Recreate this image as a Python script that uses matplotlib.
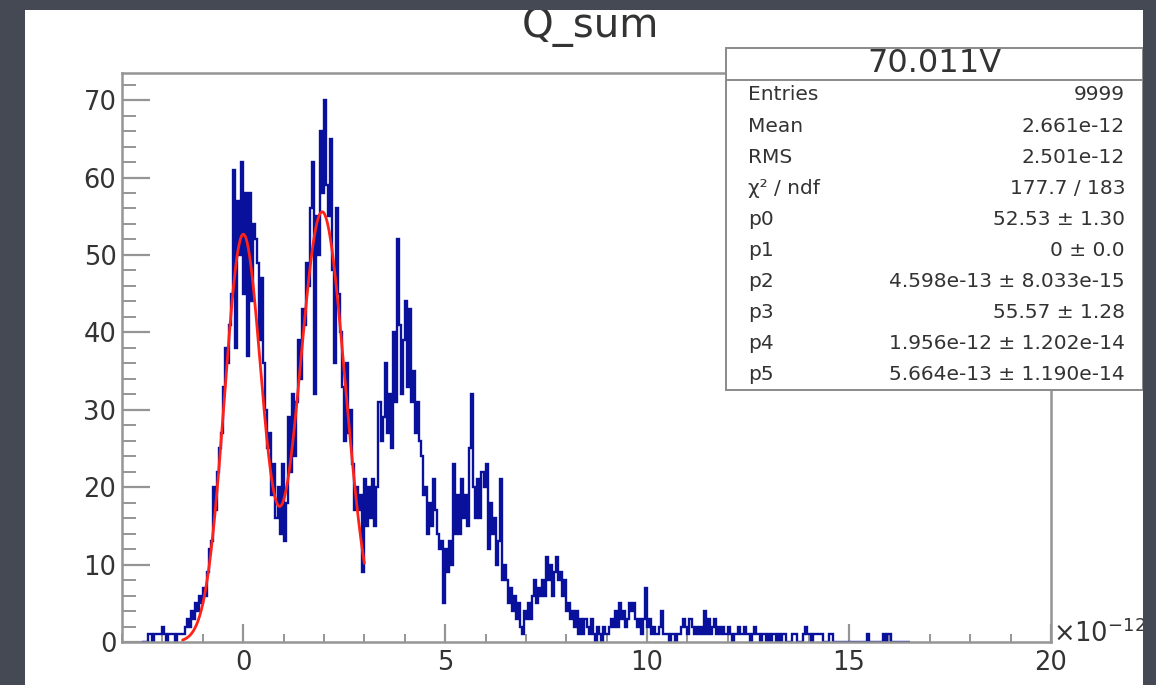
import numpy as np
import matplotlib
matplotlib.use("Agg")
import matplotlib.pyplot as plt
from matplotlib.patches import Rectangle
from matplotlib.lines import Line2D
from matplotlib.ticker import MultipleLocator

plt.rcParams['font.family'] = ['DejaVu Sans']

# ---- histogram contents: charge in units of 1e-12, bins of 0.05 starting at -2.5 ----
BIN_WIDTH = 0.05
FIRST_EDGE = -2.5

tail_left = [0, 0, 0, 1, 1, 0, 1, 1, 1, 1, 2, 1, 0, 1, 1, 1, 0, 1, 1, 1]          # -2.5 .. -1.5
rise = [1, 2, 3, 2, 4, 3, 5, 4, 6, 5, 7, 6, 9, 12, 13, 20, 17, 22, 25, 27]         # -1.5 .. -0.5
peak0 = [33, 38, 36, 41, 45, 61, 38, 57, 50, 62, 45, 58, 37, 58, 44, 54, 52, 49, 39, 47]   # -0.5 .. 0.5
valley01 = [36, 30, 25, 27, 19, 23, 16, 20, 14, 23, 13, 18, 29, 22, 32, 24, 31, 39, 34, 43]  # 0.5 .. 1.5
peak1 = [41, 49, 46, 56, 62, 32, 55, 50, 66, 58, 70, 59, 55, 65, 48, 36, 56, 45, 40, 33]     # 1.5 .. 2.5
fall1 = [26, 36, 27, 30, 23, 17, 20, 17, 19, 9, 21, 15, 20, 16, 21, 15, 20, 31, 26, 29]      # 2.5 .. 3.5
peak2 = [36, 27, 32, 25, 40, 31, 52, 41, 32, 39, 44, 33, 43, 31, 35, 27, 31, 26, 24, 19]     # 3.5 .. 4.5
peak3 = [20, 14, 18, 15, 21, 17, 14, 12, 13, 5, 12, 9, 13, 10, 23, 14, 19, 14, 21, 16,
         19, 15, 25, 32, 20, 16, 21, 16, 22, 20, 23, 12, 18, 14, 16, 10, 13, 21, 8, 10]      # 4.5 .. 6.5
peak4 = [8, 5, 7, 4, 6, 3, 5, 2, 1, 4, 3, 5, 3, 6, 8, 5, 7, 6, 8, 6,
         11, 8, 10, 6, 9, 11, 8, 9, 6, 8, 4, 5, 3, 4, 2, 4, 1, 3, 1, 3]                      # 6.5 .. 8.5
tail_mid = [2, 1, 3, 1, 0, 2, 1, 0, 2, 1, 1, 2, 3, 2, 4, 2, 5, 3, 4, 2,
            3, 5, 4, 5, 3, 2, 3, 1, 3, 7, 2, 3, 1, 2, 1, 1, 2, 4, 1, 1,
            1, 0, 1, 1, 0, 1, 1, 2, 3, 2, 1, 3, 2, 1, 2, 1, 2, 1, 4, 1]                      # 8.5 .. 11.5
tail_right = [3, 1, 2, 3, 1, 2, 1, 2, 1, 1, 2, 1, 0, 1, 1, 2, 1, 1, 2, 1,
              1, 0, 1, 2, 1, 1, 0, 1, 1, 0, 1, 0, 1, 1, 0, 1, 0, 1, 1, 0,
              0, 0, 1, 1, 0, 0, 0, 1, 2, 1, 1, 0, 1, 1, 1, 1, 1, 0, 0, 0,
              1, 1, 0, 0, 0, 0, 0, 0, 0, 0, 0, 0, 0, 0, 0, 0, 0, 0, 0, 1,
              0, 0, 0, 0, 0, 0, 0, 1, 0, 1, 1, 0, 0, 0, 0, 0, 0, 0, 0, 0]                    # 11.5 .. 16.5

# ---- statistics and fit results (double gaussian, fit range in units of 1e-12) ----
hist_title = "Q_sum"
stats_title = "70.011V"
n_entries = 9999
mean_q = 2.661e-12
rms_q = 2.501e-12
chi2, ndf = 177.7, 183
fit_params = [52.53, 0.0, 4.598e-13, 55.57, 1.956e-12, 5.664e-13]
fit_errors = [1.30, 0.0, 8.033e-15, 1.28, 1.202e-14, 1.190e-14]
fit_range = (-1.5, 3.0)
x_ticks = [0, 5, 10, 15, 20]
y_ticks = [0, 10, 20, 30, 40, 50, 60, 70]

counts = np.concatenate([tail_left, rise, peak0, valley01, peak1, fall1,
                         peak2, peak3, peak4, tail_mid, tail_right]).astype(float)
edges = FIRST_EDGE + BIN_WIDTH * np.arange(len(counts) + 1)

W, H = 1156, 685
fig = plt.figure(figsize=(W / 100, H / 100), dpi=100)
fig.patch.set_facecolor('white')


def fx(px):
    return px / W


def fy(py):
    return 1 - py / H


FRAME = '#959595'
TEXT = '#333333'

ax = fig.add_axes([fx(122), fy(642), (1051 - 122) / W, (642 - 73) / H])
ax.set_facecolor('white')
ax.set_xlim(-3, 20)
ax.set_ylim(0, 73.5)

ax.stairs(counts, edges, baseline=0, color='#08109c', lw=1.7, zorder=2)

# fitted function drawn from the quoted parameters
scale = 1e12
xf = np.linspace(fit_range[0], fit_range[1], 500)
p0, p1, p2, p3, p4, p5 = fit_params
yf = (p0 * np.exp(-0.5 * ((xf - p1 * scale) / (p2 * scale)) ** 2)
      + p3 * np.exp(-0.5 * ((xf - p4 * scale) / (p5 * scale)) ** 2))
ax.plot(xf, yf, color='#ff2218', lw=2.0, zorder=3, solid_capstyle='round')

for s in ax.spines.values():
    s.set_color(FRAME)
    s.set_linewidth(1.8)
    s.set_zorder(2.5)

ax.set_xticks(x_ticks)
ax.set_yticks(y_ticks)
ax.xaxis.set_minor_locator(MultipleLocator(1))
ax.yaxis.set_minor_locator(MultipleLocator(2))
ax.tick_params(which='both', direction='in', color=FRAME, top=False, right=False,
               labelcolor=TEXT, labelsize=18.5)
ax.tick_params(axis='y', which='major', length=20, width=1.6, pad=4)
ax.tick_params(axis='y', which='minor', length=10, width=1.4)
ax.tick_params(axis='x', which='major', length=13, width=1.6, pad=6)
ax.tick_params(axis='x', which='minor', length=6, width=1.4)

# axis exponent
fig.text(fx(1053), fy(634), r'$\times10^{-12}$', ha='left', va='center',
         fontsize=18.5, color=TEXT)

# title
fig.text(fx(590), fy(37), hist_title, ha='center', va='baseline', fontsize=29, color=TEXT)

# statistics box
bx0, by0, bx1, by1 = 726, 48, 1143, 390
fig.add_artist(Rectangle((fx(bx0), fy(by1)), (bx1 - bx0) / W, (by1 - by0) / H,
                         transform=fig.transFigure, facecolor='white',
                         edgecolor='#8a8a8a', lw=1.4, zorder=5))
fig.add_artist(Line2D([fx(bx0), fx(bx1)], [fy(80), fy(80)], transform=fig.transFigure,
                      color='#8a8a8a', lw=1.4, zorder=6))
fig.text(fx((bx0 + bx1) / 2), fy(64), stats_title, ha='center', va='center',
         fontsize=23, color=TEXT, zorder=7)


def fmt_par(v, e):
    if v == 0:
        return "0 \u00b1 0.0"
    if abs(v) < 1e-3:
        return f"{v:.3e} \u00b1 {e:.3e}"
    return f"{v:.2f} \u00b1 {e:.2f}"


row_labels = ["Entries", "Mean", "RMS", "\u03c7\u00b2 / ndf"] + [f"p{i}" for i in range(6)]
row_values = [f"{n_entries}", f"{mean_q:.3e}", f"{rms_q:.3e}", f"{chi2:.1f} / {ndf}"] + \
             [fmt_par(v, e) for v, e in zip(fit_params, fit_errors)]
for i, (lab, val) in enumerate(zip(row_labels, row_values)):
    yy = 95 + i * 31.1
    fig.text(fx(748), fy(yy), lab, ha='left', va='center', fontsize=14.5, color=TEXT, zorder=7)
    fig.text(fx(1125), fy(yy), val, ha='right', va='center', fontsize=14.5, color=TEXT, zorder=7)

# dark surround of the canvas
BORDER = '#454953'
for (x0, y0, x1, y1) in [(0, 0, W, 10), (0, 0, 25, H), (1143, 0, W, H)]:
    fig.add_artist(Rectangle((fx(x0), fy(y1)), (x1 - x0) / W, (y1 - y0) / H,
                             transform=fig.transFigure, facecolor=BORDER,
                             edgecolor='none', zorder=20))

fig.savefig('out.png', dpi=100, facecolor='white')
